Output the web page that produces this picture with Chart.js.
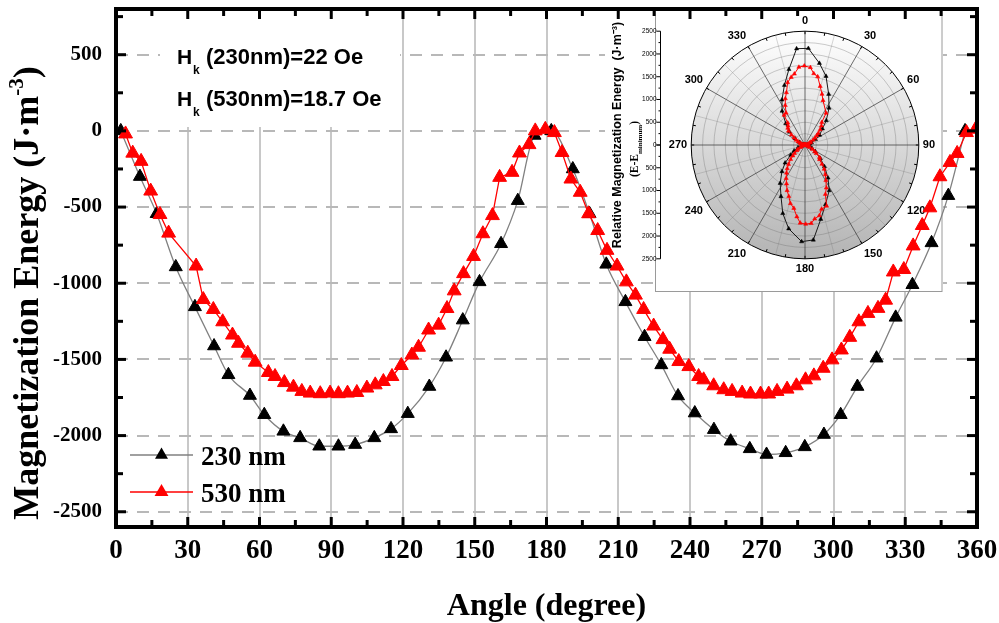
<!DOCTYPE html>
<html>
<head>
<meta charset="utf-8">
<script src="https://cdn.jsdelivr.net/npm/chart.js@4/dist/chart.umd.min.js"></script>
<style>
  html, body { margin: 0; padding: 0; background: #fff; }
  #wrap { position: relative; width: 999px; height: 623px; }
  #mainChart { position: absolute; left: 0; top: 0; z-index: 2; }
  #polarChart { position: absolute; left: 600px; top: 8px; z-index: 1; }
</style>
</head>
<body>
<div id="wrap">
  <canvas id="polarChart" width="343" height="285"></canvas>
  <canvas id="mainChart" width="999" height="623"></canvas>
</div>
<script>
// 230 nm film: angle (deg) and magnetization energy (J/m^3)
const angle230 = [2, 10, 17, 25, 33, 41, 47, 56, 62, 70, 77, 85, 93, 100, 108, 115, 122, 131, 138, 145,
  152, 161, 168, 175, 182, 191, 198, 205, 213, 221, 228, 235, 242, 250, 257, 265, 272, 280, 288, 296,
  303, 310, 318, 326, 333, 341, 348, 355];
const energy230 = [0, -300, -544, -893, -1155, -1412, -1601, -1737, -1863, -1972, -2015, -2070, -2070, -2059, -2015, -1956, -1856, -1678, -1486, -1242,
  -991, -741, -458, -30, 0, -250, -544, -876, -1122, -1351, -1536, -1740, -1852, -1961, -2037, -2087, -2124, -2113, -2074, -1993,
  -1863, -1678, -1492, -1224, -1010, -735, -425, 0];

// 530 nm film
const angle530 = [4, 7, 10.5, 14.5, 18.4, 22, 33.5, 36.5, 40.7, 44.6, 48.7, 51.2, 55.1, 58.2, 63.7, 66.5, 70.4, 74.2, 77.7, 81.2,
  85.4, 89.5, 93, 96.8, 100.7, 104.9, 108.4, 111.8, 115.4, 119.3, 123.7, 126.5, 130.7, 134.9, 138.4, 141.4, 145.3, 149.5, 153.4, 157.4,
  160.4, 165.6, 168.7, 172.7, 175.3, 179.5, 183.3, 186.5, 190.2, 194.1, 197.6, 201.4, 205.3, 209.5, 213.4, 217.2, 220.6, 224.8, 228.7, 231.5,
  235.3, 239.5, 243.6, 245.7, 249.9, 254.1, 257.6, 261.8, 265.3, 269.5, 272.9, 276.4, 280.6, 284.5, 288.3, 291.8, 295.7, 299.4, 303.3, 306.8,
  310.6, 314.4, 318.6, 321.8, 325, 329.4, 333.3, 337.1, 340.3, 344.5, 348.7, 351.7, 355.6, 359.4];
const energy530 = [-20, -146, -200, -395, -549, -671, -887, -1107, -1172, -1253, -1340, -1394, -1459, -1518, -1586, -1612, -1652, -1682, -1710, -1721,
  -1725, -1721, -1725, -1721, -1717, -1688, -1667, -1645, -1612, -1540, -1471, -1420, -1307, -1275, -1166, -1050, -937, -824, -675, -556,
  -305, -272, -145, -90, 0, 10, -11, -142, -316, -403, -544, -654, -784, -887, -991, -1078, -1172, -1281, -1370, -1433,
  -1514, -1547, -1612, -1634, -1673, -1699, -1710, -1721, -1727, -1727, -1727, -1710, -1695, -1673, -1634, -1608, -1558, -1503, -1438, -1355,
  -1253, -1198, -1165, -1111, -926, -910, -755, -621, -505, -301, -207, -148, -11, 11];

const seriesNames = ['230 nm', '530 nm'];
const angleTicks = [0, 30, 60, 90, 120, 150, 180, 210, 240, 270, 300, 330, 360];
const energyTicks = [-2500, -2000, -1500, -1000, -500, 0, 500];
const hkNotes = ['(230nm)=22 Oe', '(530nm)=18.7 Oe'];
const polarAngles = [0, 30, 60, 90, 120, 150, 180, 210, 240, 270, 300, 330];
const relTicks = [0, 500, 1000, 1500, 2000, 2500];

const SERIF = '"Liberation Serif", "Times New Roman", serif';
const SANS = '"Liberation Sans", Arial, sans-serif';

function triangle(ctx, x, y, r) {
  ctx.beginPath();
  for (let k = 0; k < 3; k++) {
    const t = k * 2 * Math.PI / 3;
    ctx.lineTo(x + Math.sin(t) * r, y - Math.cos(t) * r);
  }
  ctx.closePath();
  ctx.fill();
}

// ---------- inset: E - Emin in polar form ----------
const HALF_STEPS = 720; // half-degree categories around the circle
const polarLabels = Array.from({length: HALF_STEPS}, (_, i) => i / 2);

function toPolar(angles, energies) {
  const emin = Math.min(...energies);
  const out = new Array(HALF_STEPS).fill(null);
  angles.forEach((a, i) => { out[Math.round(a * 2) % HALF_STEPS] = energies[i] - emin; });
  return out;
}

const insetDecor = {
  id: 'insetDecor',
  beforeDraw(chart) {
    const {ctx} = chart;
    const r = chart.scales.r;
    ctx.save();
    ctx.fillStyle = '#fff';
    ctx.fillRect(5, 0, 50, 272);
    ctx.fillRect(55, 0, chart.width - 55, 284);
    const g = ctx.createLinearGradient(0, r.yCenter - r.drawingArea, 0, r.yCenter + r.drawingArea);
    g.addColorStop(0, '#ffffff');
    g.addColorStop(1, '#b3b3b3');
    ctx.fillStyle = g;
    ctx.beginPath();
    ctx.arc(r.xCenter, r.yCenter, r.drawingArea, 0, 2 * Math.PI);
    ctx.fill();
    ctx.restore();
  },
  afterDraw(chart) {
    const {ctx} = chart;
    const r = chart.scales.r;
    const cy = r.yCenter;
    ctx.save();
    // frame
    ctx.strokeStyle = '#9a9a9a';
    ctx.lineWidth = 1;
    ctx.strokeRect(55.5, 0.5, chart.width - 56.5, 283);

    // outer ring ticks
    ctx.strokeStyle = '#000';
    for (let d = 0; d < 360; d += 10) {
      const t = d * Math.PI / 180;
      const R = r.drawingArea;
      ctx.beginPath();
      ctx.moveTo(r.xCenter + Math.sin(t) * R, cy - Math.cos(t) * R);
      ctx.lineTo(r.xCenter + Math.sin(t) * (R - 3), cy - Math.cos(t) * (R - 3));
      ctx.stroke();
    }

    // vertical value axis, mirrored about the centre
    const ax = 60.5;
    const top = cy - r.getDistanceFromCenterForValue(2500);
    const bot = cy + r.getDistanceFromCenterForValue(2500);
    ctx.beginPath();
    ctx.moveTo(ax, top);
    ctx.lineTo(ax, bot);
    ctx.stroke();
    for (let v = 0; v <= 2500; v += 250) {
      const d = r.getDistanceFromCenterForValue(v);
      const len = v % 500 === 0 ? 4 : 2;
      [cy - d, cy + d].forEach(py => {
        ctx.beginPath();
        ctx.moveTo(ax, py);
        ctx.lineTo(ax - len, py);
        ctx.stroke();
      });
    }
    ctx.fillStyle = '#000';
    ctx.font = '6.5px ' + SANS;
    ctx.textAlign = 'right';
    ctx.textBaseline = 'middle';
    relTicks.forEach(v => {
      const d = r.getDistanceFromCenterForValue(v);
      ctx.fillText(String(v), ax - 4, cy - d);
      if (v !== 0) ctx.fillText(String(v), ax - 4, cy + d);
    });

    // axis titles
    ctx.translate(21, cy);
    ctx.rotate(-Math.PI / 2);
    ctx.textAlign = 'center';
    ctx.textBaseline = 'alphabetic';
    ctx.font = 'bold 12.5px ' + SANS;
    ctx.fillText('Relative Magnetization Energy  (J\u00b7m\u207b\u00b3)', 10, 0);

    const parts = [['(E-E', 'bold 11.5px ' + SERIF, 0], ['minimum', 'bold 7px ' + SERIF, 4], [')', 'bold 11.5px ' + SERIF, 0]];
    let w = 0;
    parts.forEach(p => { ctx.font = p[1]; w += ctx.measureText(p[0]).width; });
    let x0 = -w / 2 - 4;
    ctx.textAlign = 'left';
    parts.forEach(p => {
      ctx.font = p[1];
      ctx.fillText(p[0], x0, 17 + p[2]);
      x0 += ctx.measureText(p[0]).width;
    });
    ctx.restore();
  }
};

const polarChart = new Chart(document.getElementById('polarChart'), {
  type: 'radar',
  data: {
    labels: polarLabels,
    datasets: [{
      label: seriesNames[0],
      data: toPolar(angle230, energy230),
      borderColor: '#1a1a1a',
      borderWidth: 1,
      pointStyle: 'triangle',
      pointRadius: 2.4,
      pointBackgroundColor: '#000',
      pointBorderColor: '#000',
      pointBorderWidth: 0.5,
      spanGaps: true,
      fill: false,
      order: 1
    }, {
      label: seriesNames[1],
      data: toPolar(angle530, energy530),
      borderColor: '#ff0000',
      borderWidth: 1,
      pointStyle: 'triangle',
      pointRadius: 2.4,
      pointBackgroundColor: '#ff0000',
      pointBorderColor: '#ff0000',
      pointBorderWidth: 0.5,
      spanGaps: true,
      fill: false,
      order: 0
    }]
  },
  options: {
    responsive: false,
    animation: false,
    layout: { padding: { left: 64, right: 2, top: 6, bottom: 17 } },
    plugins: { legend: { display: false }, tooltip: { enabled: false } },
    scales: {
      r: {
        min: 0,
        max: 2500,
        startAngle: 0,
        ticks: { display: false, stepSize: 250 },
        grid: {
          circular: true,
          color: ctx => ctx.index === 10 ? '#000' : 'rgba(110,110,110,0.35)',
          lineWidth: 1
        },
        angleLines: {
          color: ctx => ctx.index % 60 === 0 ? 'rgba(60,60,60,0.75)' : 'rgba(120,120,120,0.3)',
          lineWidth: ctx => ctx.index % 30 === 0 ? 1 : 0
        },
        pointLabels: {
          callback: (label) => polarAngles.includes(label) ? String(label) : '',
          font: { family: SANS, weight: 'bold', size: 11 },
          color: '#000',
          padding: 4
        }
      }
    }
  },
  plugins: [insetDecor]
});

// ---------- main chart ----------
const mainDecor = {
  id: 'mainDecor',
  beforeDatasetsDraw(chart) {
    const {ctx, chartArea: a} = chart;
    ctx.save();
    // H_k note box
    ctx.fillStyle = '#fff';
    ctx.fillRect(160, a.top, 240, 118);
    ctx.fillStyle = '#000';
    ctx.textBaseline = 'alphabetic';
    hkNotes.forEach((t, i) => {
      const base = 64 + i * 42;
      ctx.font = 'bold 21px ' + SANS;
      ctx.fillText('H', 177, base);
      ctx.font = 'bold 12px ' + SANS;
      ctx.fillText('k', 193, base + 10);
      ctx.font = 'bold 22px ' + SANS;
      ctx.fillText(t, 206, base);
    });
    // polar inset sits above the grid but under the data
    ctx.drawImage(polarChart.canvas, 600, 8);
    ctx.restore();
  },
  afterDraw(chart) {
    const {ctx, chartArea: a} = chart;
    const xs = chart.scales.x, ys = chart.scales.y;
    ctx.save();
    ctx.strokeStyle = '#000';
    ctx.lineWidth = 3;
    const seg = (x1, y1, x2, y2) => { ctx.beginPath(); ctx.moveTo(x1, y1); ctx.lineTo(x2, y2); ctx.stroke(); };
    for (let v = 15; v < 360; v += 15) {
      const px = xs.getPixelForValue(v);
      const len = v % 30 === 0 ? 10 : 7;
      seg(px, a.bottom, px, a.bottom - len);
      seg(px, a.top, px, a.top + len);
    }
    for (let v = -2500; v <= 750; v += 250) {
      const py = ys.getPixelForValue(v);
      const len = v % 500 === 0 ? 10 : 7;
      seg(a.left, py, a.left + len, py);
      seg(a.right, py, a.right - len, py);
    }
    ctx.lineWidth = 4;
    ctx.strokeRect(a.left, a.top, a.right - a.left, a.bottom - a.top);

    // legend
    const ds = chart.data.datasets;
    [0, 1].forEach(i => {
      const y = 455 + i * 37;
      ctx.strokeStyle = ds[i].borderColor;
      ctx.lineWidth = 1.5;
      seg(130, y, 193, y);
      ctx.fillStyle = ds[i].pointBackgroundColor;
      triangle(ctx, 161.5, y, ds[i].pointRadius);
      ctx.fillStyle = '#000';
      ctx.font = 'bold 27px ' + SERIF;
      ctx.textBaseline = 'middle';
      ctx.textAlign = 'left';
      ctx.fillText(ds[i].label, 201, y + 3);
    });

    // axis titles
    ctx.fillStyle = '#000';
    ctx.textBaseline = 'alphabetic';
    ctx.textAlign = 'center';
    ctx.font = 'bold 32px ' + SERIF;
    ctx.fillText('Angle (degree)', (a.left + a.right) / 2, 615);

    ctx.translate(38, 293);
    ctx.rotate(-Math.PI / 2);
    const main = 'Magnetization Energy (J\u00b7m';
    ctx.font = 'bold 36px ' + SERIF;
    const w1 = ctx.measureText(main).width;
    ctx.font = 'bold 21px ' + SERIF;
    const w2 = ctx.measureText('-3').width;
    ctx.font = 'bold 36px ' + SERIF;
    const w3 = ctx.measureText(')').width;
    let x0 = -(w1 + w2 + w3) / 2;
    ctx.textAlign = 'left';
    ctx.fillText(main, x0, 0);
    ctx.font = 'bold 21px ' + SERIF;
    ctx.fillText('-3', x0 + w1, -15);
    ctx.font = 'bold 36px ' + SERIF;
    ctx.fillText(')', x0 + w1 + w2, 0);
    ctx.restore();
  }
};

new Chart(document.getElementById('mainChart'), {
  type: 'scatter',
  data: {
    datasets: [{
      label: seriesNames[0],
      data: angle230.map((a, i) => ({x: a, y: energy230[i]})),
      showLine: true,
      borderColor: '#808080',
      borderWidth: 1.3,
      cubicInterpolationMode: 'monotone',
      pointStyle: 'triangle',
      pointRadius: 7.5,
      pointBackgroundColor: '#000',
      pointBorderColor: '#000',
      pointBorderWidth: 1,
      order: 1
    }, {
      label: seriesNames[1],
      data: angle530.map((a, i) => ({x: a, y: energy530[i]})),
      showLine: true,
      borderColor: '#ff0000',
      borderWidth: 1.3,
      pointStyle: 'triangle',
      pointRadius: 8,
      pointBackgroundColor: '#ff0000',
      pointBorderColor: '#ff0000',
      pointBorderWidth: 1,
      order: 0
    }]
  },
  options: {
    responsive: false,
    animation: false,
    layout: { padding: { left: 0, right: 22, top: 7, bottom: 0 } },
    plugins: { legend: { display: false }, tooltip: { enabled: false } },
    scales: {
      x: {
        type: 'linear',
        min: 0,
        max: 360,
        afterBuildTicks: s => { s.ticks = angleTicks.map(v => ({value: v})); },
        afterFit: s => { s.height = 96; s.paddingLeft = 0; s.paddingRight = 0; },
        grid: { color: '#c8c8c8', lineWidth: 2, drawTicks: false },
        border: { display: false },
        ticks: {
          color: '#000',
          padding: 8,
          maxRotation: 0,
          callback: v => String(v),
          font: { family: SERIF, weight: 'bold', size: 27 }
        }
      },
      y: {
        min: -2600,
        max: 800,
        afterBuildTicks: s => { s.ticks = energyTicks.map(v => ({value: v})); },
        afterFit: s => { s.width = 116; s.paddingTop = 0; s.paddingBottom = 0; },
        grid: { color: '#b8b8b8', lineWidth: 2, drawTicks: false },
        border: { display: false, dash: [12, 9] },
        ticks: {
          color: '#000',
          padding: 14,
          callback: v => String(v),
          font: { family: SERIF, weight: 'bold', size: 21 }
        }
      }
    }
  },
  plugins: [mainDecor]
});
</script>
</body>
</html>
